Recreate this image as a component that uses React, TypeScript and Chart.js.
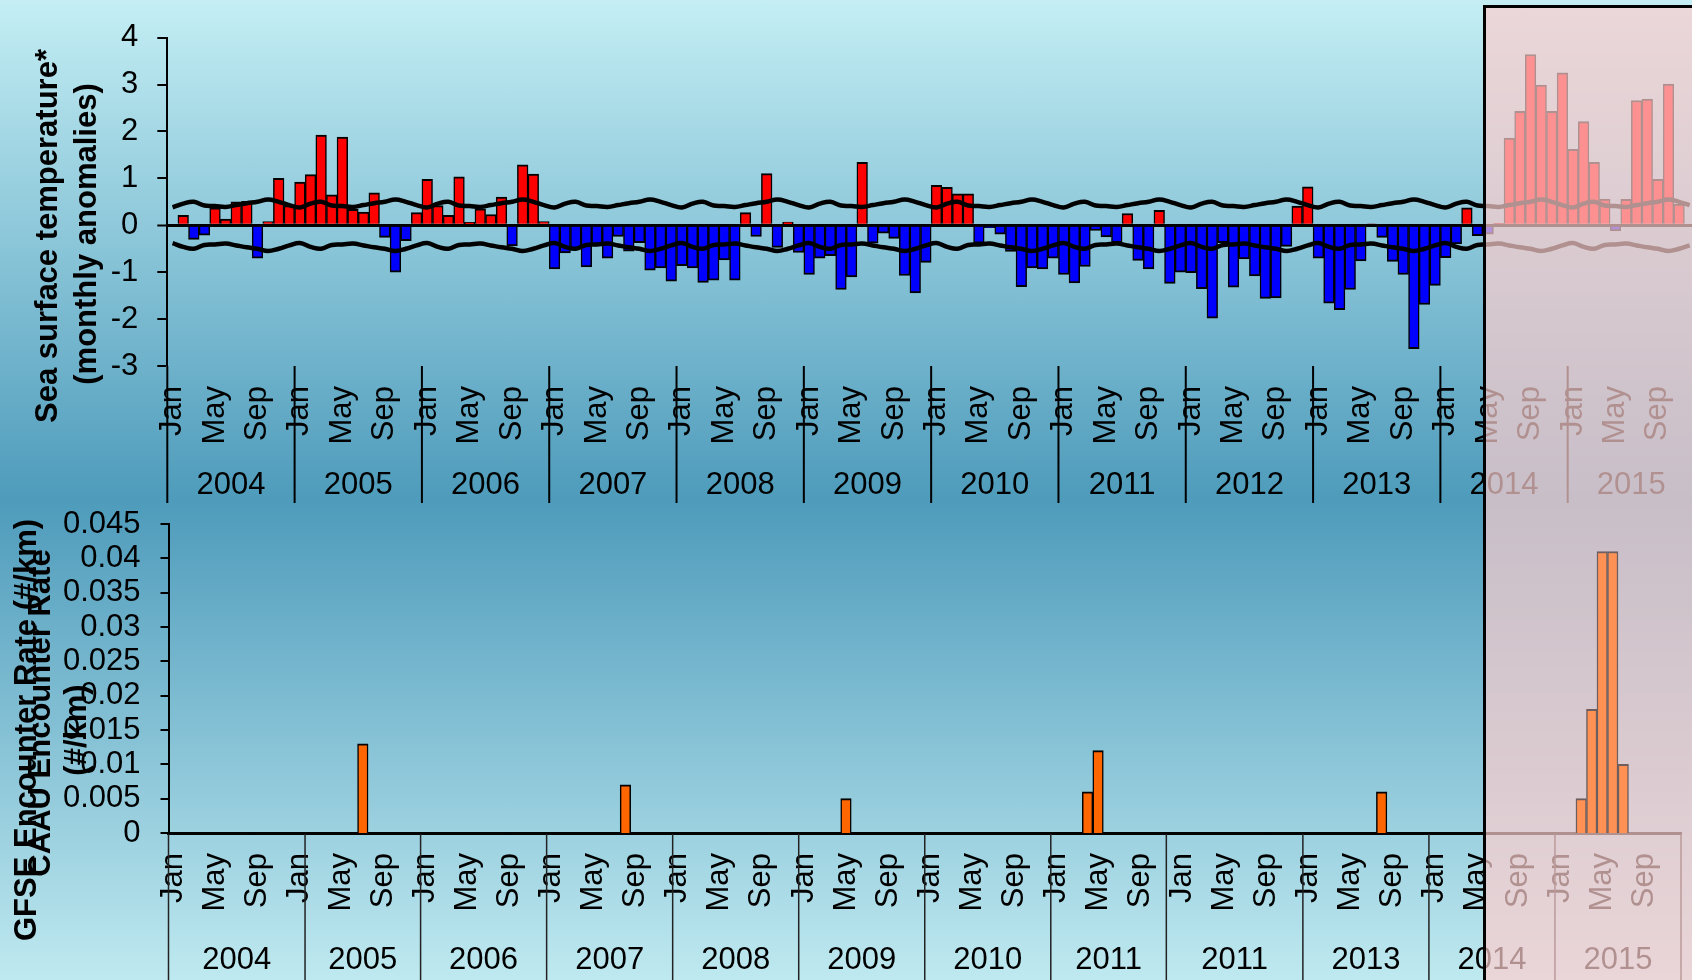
import React, { useEffect, useRef } from 'react';
import { Chart, registerables } from 'chart.js';

Chart.register(...registerables);

// ---------- data ----------
const MONTHS = ['Jan', 'Feb', 'Mar', 'Apr', 'May', 'Jun', 'Jul', 'Aug', 'Sep', 'Oct', 'Nov', 'Dec'];
const YEARS = ['2004', '2005', '2006', '2007', '2008', '2009', '2010', '2011', '2012', '2013', '2014', '2015'];
const SHOWN_MONTHS = ['Jan', 'May', 'Sep'];

const sst2004 = [0, 0.21, -0.3, -0.21, 0.37, 0.13, 0.5, 0.51, -0.7, 0.08, 1.0, 0.42];
const sst2005 = [0.92, 1.08, 1.92, 0.65, 1.88, 0.34, 0.28, 0.69, -0.26, -1.0, -0.33, 0.27];
const sst2006 = [0.98, 0.42, 0.21, 1.03, 0.06, 0.35, 0.23, 0.6, -0.44, 1.29, 1.09, 0.08];
const sst2007 = [-0.93, -0.59, -0.5, -0.89, -0.44, -0.7, -0.24, -0.55, -0.37, -0.96, -0.91, -1.19];
const sst2008 = [-0.86, -0.91, -1.22, -1.17, -0.74, -1.17, 0.27, -0.24, 1.1, -0.47, 0.07, -0.58];
const sst2009 = [-1.05, -0.7, -0.65, -1.37, -1.1, 1.34, -0.38, -0.17, -0.28, -1.07, -1.44, -0.79];
const sst2010 = [0.85, 0.81, 0.67, 0.67, -0.38, -0.05, -0.19, -0.56, -1.31, -0.91, -0.93, -0.7];
const sst2011 = [-1.05, -1.23, -0.88, -0.11, -0.25, -0.37, 0.25, -0.75, -0.93, 0.32, -1.24, -1.0];
const sst2012 = [-1.01, -1.35, -1.98, -0.37, -1.32, -0.72, -1.08, -1.56, -1.55, -0.45, 0.41, 0.82];
const sst2013 = [-0.7, -1.66, -1.8, -1.37, -0.76, 0.03, -0.26, -0.77, -1.05, -2.63, -1.69, -1.28];
const sst2014 = [-0.69, -0.4, 0.37, -0.22, -0.19, 0.04, 1.86, 2.43, 3.64, 2.99, 2.43, 3.25];
const sst2015 = [1.62, 2.21, 1.34, 0.56, -0.12, 0.55, 2.66, 2.69, 0.98, 3.01, 0.45, null];

// monthly threshold (+/-) of the anomaly band, Jan..Dec
const BAND_BY_MONTH = [0.38, 0.46, 0.5, 0.42, 0.41, 0.39, 0.43, 0.47, 0.5, 0.55, 0.5, 0.43];

const enc2004 = [0, 0, 0, 0, 0, 0, 0, 0, 0, 0, 0, 0];
const enc2005 = [0, 0, 0, 0, 0, 0, 0.013, 0, 0, 0, 0, 0];
const enc2006 = [0, 0, 0, 0, 0, 0, 0, 0, 0, 0, 0, 0];
const enc2007 = [0, 0, 0, 0, 0, 0, 0, 0.007, 0, 0, 0, 0];
const enc2008 = [0, 0, 0, 0, 0, 0, 0, 0, 0, 0, 0, 0];
const enc2009 = [0, 0, 0, 0, 0.005, 0, 0, 0, 0, 0, 0, 0];
const enc2010 = [0, 0, 0, 0, 0, 0, 0, 0, 0, 0, 0, 0];
const enc2011 = [0, 0, 0, 0.006, 0.012, 0, 0, 0, 0, 0, 0, 0];
const enc2012 = [0, 0, 0, 0, 0, 0, 0, 0, 0, 0, 0, 0];
const enc2013 = [0, 0, 0, 0, 0, 0, 0, 0.006, 0, 0, 0, 0];
const enc2014 = [0, 0, 0, 0, 0, 0, 0, 0, 0, 0, 0, 0];
const enc2015 = [0, 0, 0.005, 0.018, 0.041, 0.041, 0.01, 0, 0, 0, 0, 0];

const TOP_YEAR_LABELS = YEARS;
const TOP_YEAR_STARTS = [0, 12, 24, 36, 48, 60, 72, 84, 96, 108, 120, 132];
const BOTTOM_YEAR_LABELS = ['2004', '2005', '2006', '2007', '2008', '2009', '2010', '2011', '2011', '2013', '2014', '2015'];
const BOTTOM_YEAR_STARTS = [0, 13, 24, 36, 48, 60, 72, 84, 95, 108, 120, 132];

const TOP_TITLE = ['Sea surface temperature*', '(monthly anomalies)'];
const BOTTOM_TITLE_A = ['GFSE Encounter Rate (#/km)'];
const BOTTOM_TITLE_B = ['CAAU Encounter Rate', '(#/km)'];

// ---------- derived tables ----------
const LABELS = YEARS.flatMap(() => MONTHS);
const SST = [
  ...sst2004, ...sst2005, ...sst2006, ...sst2007, ...sst2008, ...sst2009,
  ...sst2010, ...sst2011, ...sst2012, ...sst2013, ...sst2014, ...sst2015,
];
const UPPER = LABELS.map((_, i) => BAND_BY_MONTH[i % 12]);
const LOWER = LABELS.map((_, i) => -BAND_BY_MONTH[i % 12]);
const ENC = [
  ...enc2004, ...enc2005, ...enc2006, ...enc2007, ...enc2008, ...enc2009,
  ...enc2010, ...enc2011, ...enc2012, ...enc2013, ...enc2014, ...enc2015,
];

// ---------- styling ----------
const FAMILY = '"Liberation Sans", Arial, Helvetica, sans-serif';
const TICK_FONT = { family: FAMILY, size: 31 };
const MONTH_FONT = { family: FAMILY, size: 31 };
const OVERLAY_X = 1483; // page px, left edge of the highlighted box
const OVERLAY_FILL = 'rgba(252,205,205,0.7)';

const yearGroupPlugin = {
  id: 'yearGroups',
  beforeDatasetsDraw(chart: any, _args: any, opts: any) {
    const x = chart.scales.x;
    const area = chart.chartArea;
    const ctx = chart.ctx;
    const n = chart.data.labels.length;
    const bounds = [...opts.starts, n];
    ctx.save();
    ctx.strokeStyle = opts.lineColor;
    ctx.lineWidth = opts.lineWidth;
    bounds.forEach((b: number) => {
      const px = x.getPixelForValue(b - 0.5);
      ctx.beginPath();
      ctx.moveTo(px, area.bottom + opts.lineTop);
      ctx.lineTo(px, area.bottom + opts.lineBottom);
      ctx.stroke();
    });
    ctx.fillStyle = '#000';
    ctx.font = `${opts.fontSize}px ${FAMILY}`;
    ctx.textAlign = 'center';
    ctx.textBaseline = 'middle';
    opts.labels.forEach((lab: string, i: number) => {
      const a = x.getPixelForValue(bounds[i] - 0.5);
      const b = x.getPixelForValue(bounds[i + 1] - 0.5);
      ctx.fillText(lab, (a + b) / 2, area.bottom + opts.labelOffset);
    });
    ctx.restore();
  },
};

const sideTitlePlugin = {
  id: 'sideTitles',
  afterDraw(chart: any, _args: any, opts: any) {
    const ctx = chart.ctx;
    ctx.save();
    ctx.fillStyle = '#000';
    ctx.font = `bold ${opts.fontSize}px ${FAMILY}`;
    ctx.textAlign = 'center';
    ctx.textBaseline = 'middle';
    opts.items.forEach((it: any) => {
      ctx.save();
      ctx.translate(it.x, it.y);
      ctx.rotate(-Math.PI / 2);
      ctx.fillText(it.text, 0, 0);
      ctx.restore();
    });
    ctx.restore();
  },
};

function paintOverlay(chart: any, opts: any) {
  const ctx = chart.ctx;
  const w = chart.width;
  ctx.save();
  ctx.fillStyle = OVERLAY_FILL;
  ctx.fillRect(OVERLAY_X, opts.top, w - OVERLAY_X, opts.bottom - opts.top);
  ctx.strokeStyle = '#000';
  ctx.lineWidth = 3;
  ctx.beginPath();
  ctx.moveTo(OVERLAY_X + 1.5, opts.top);
  ctx.lineTo(OVERLAY_X + 1.5, opts.bottom);
  if (opts.topBorder) {
    ctx.moveTo(OVERLAY_X, opts.top + 1.5);
    ctx.lineTo(w, opts.top + 1.5);
  }
  ctx.stroke();
  ctx.restore();
}

const overlayPlugin = {
  id: 'highlightBox',
  beforeDatasetsDraw(chart: any, _a: any, opts: any) {
    if (opts.mode === 'under') paintOverlay(chart, opts);
  },
  afterDraw(chart: any, _a: any, opts: any) {
    if (opts.mode === 'over') paintOverlay(chart, opts);
  },
};

function monthTick(this: any, value: any) {
  const l = this.getLabelForValue(value);
  return SHOWN_MONTHS.includes(l) ? l : null;
}

function inOverlay(c: any) {
  const x = c.chart.scales.x;
  return x.getPixelForValue(c.dataIndex) > OVERLAY_X;
}

function topConfig(): any {
  return {
    type: 'bar',
    data: {
      labels: LABELS,
      datasets: [
        { type: 'line', data: UPPER, borderColor: '#000', borderWidth: 4.5, pointRadius: 0, tension: 0.4, order: 0 },
        { type: 'line', data: LOWER, borderColor: '#000', borderWidth: 4.5, pointRadius: 0, tension: 0.4, order: 0 },
        {
          type: 'bar',
          data: SST,
          backgroundColor: (c: any) => ((c.raw ?? 0) >= 0 ? '#ff0000' : '#0000ff'),
          borderColor: '#000',
          borderWidth: { top: 2, bottom: 2, left: 1.5, right: 1.5 },
          barPercentage: 1,
          categoryPercentage: 1,
          order: 1,
        },
      ],
    },
    options: {
      responsive: false,
      animation: false,
      layout: { padding: { left: 0, top: 33, right: 1700 - 1695, bottom: 0 } },
      plugins: {
        legend: { display: false },
        tooltip: { enabled: false },
        yearGroups: {
          starts: TOP_YEAR_STARTS, labels: TOP_YEAR_LABELS, lineColor: '#000', lineWidth: 2,
          lineTop: 0, lineBottom: 137, labelOffset: 119, fontSize: 31,
        },
        sideTitles: {
          fontSize: 31,
          items: [
            { text: TOP_TITLE[0], x: 48, y: 236 },
            { text: TOP_TITLE[1], x: 87, y: 234 },
          ],
        },
        highlightBox: { mode: 'over', top: 5, bottom: 500, topBorder: true },
      },
      scales: {
        x: {
          type: 'category',
          offset: true,
          grid: { display: true, drawOnChartArea: false, drawTicks: true, tickLength: 20, color: 'rgba(0,0,0,0)' },
          border: { display: false },
          ticks: { autoSkip: false, minRotation: 90, maxRotation: 90, padding: 0, font: MONTH_FONT, color: '#000', callback: monthTick },
          afterFit: (s: any) => { s.height = 520 - 366; },
        },
        y: {
          min: -3,
          max: 4,
          ticks: { stepSize: 1, autoSkip: false, padding: 19, font: TICK_FONT, color: '#000' },
          grid: {
            color: (c: any) => (c.tick && c.tick.value === 0 ? '#000' : 'rgba(0,0,0,0)'),
            lineWidth: (c: any) => (c.tick && c.tick.value === 0 ? 3 : 0),
            tickColor: '#000',
            tickWidth: 2,
            tickLength: 10,
            drawTicks: true,
          },
          border: { display: true, color: '#000', width: 2 },
          afterFit: (s: any) => { s.width = 167.3; },
        },
      },
    },
    plugins: [yearGroupPlugin, sideTitlePlugin, overlayPlugin],
  };
}

function bottomConfig(): any {
  return {
    type: 'bar',
    data: {
      labels: LABELS,
      datasets: [
        {
          type: 'bar',
          data: ENC,
          backgroundColor: (c: any) => (inOverlay(c) ? '#ff9155' : '#ff6600'),
          borderColor: (c: any) => (inOverlay(c) ? '#6e5e5e' : '#000'),
          borderWidth: { top: 2, bottom: 0, left: 1.5, right: 1.5 },
          barPercentage: 1,
          categoryPercentage: 1,
        },
      ],
    },
    options: {
      responsive: false,
      animation: false,
      layout: { padding: { left: 0, top: 44, right: 1700 - 1681, bottom: 0 } },
      plugins: {
        legend: { display: false },
        tooltip: { enabled: false },
        yearGroups: {
          starts: BOTTOM_YEAR_STARTS, labels: BOTTOM_YEAR_LABELS, lineColor: '#222', lineWidth: 1.5,
          lineTop: 1, lineBottom: 150, labelOffset: 127, fontSize: 31,
        },
        sideTitles: {
          fontSize: 31,
          items: [
            { text: BOTTOM_TITLE_A[0], x: 27, y: 250 },
            { text: BOTTOM_TITLE_B[0], x: 41, y: 233 },
            { text: BOTTOM_TITLE_B[1], x: 77, y: 250 },
          ],
        },
        highlightBox: { mode: 'under', top: 20, bottom: 500, topBorder: false },
      },
      scales: {
        x: {
          type: 'category',
          offset: true,
          grid: { display: true, drawOnChartArea: false, drawTicks: true, tickLength: 20, color: 'rgba(0,0,0,0)' },
          border: { display: true, color: '#000', width: 3 },
          ticks: { autoSkip: false, minRotation: 90, maxRotation: 90, padding: 0, font: MONTH_FONT, color: '#000', callback: monthTick },
          afterFit: (s: any) => { s.height = 500 - 353; },
        },
        y: {
          min: 0,
          max: 0.045,
          ticks: {
            stepSize: 0.005,
            autoSkip: false,
            padding: 20,
            font: TICK_FONT,
            color: '#000',
            callback: (v: any) => String(Number(Number(v).toFixed(3))),
          },
          grid: {
            color: 'rgba(0,0,0,0)',
            lineWidth: 0,
            tickColor: '#000',
            tickWidth: 2,
            tickLength: 8,
            drawTicks: true,
          },
          border: { display: true, color: '#000', width: 2 },
          afterFit: (s: any) => { s.width = 168.5; },
        },
      },
    },
    plugins: [yearGroupPlugin, sideTitlePlugin, overlayPlugin],
  };
}

export default function App() {
  const topRef = useRef<HTMLCanvasElement>(null);
  const botRef = useRef<HTMLCanvasElement>(null);

  useEffect(() => {
    document.body.style.margin = '0';
    const c1 = new Chart(topRef.current as HTMLCanvasElement, topConfig());
    const c2 = new Chart(botRef.current as HTMLCanvasElement, bottomConfig());
    return () => {
      c1.destroy();
      c2.destroy();
    };
  }, []);

  return (
    <div
      style={{
        position: 'fixed',
        left: 0,
        top: 0,
        width: 1692,
        height: 980,
        overflow: 'hidden',
        background: 'linear-gradient(to bottom, #c4eef4 0%, #4e9bbb 51%, #bfe9f0 100%)',
      }}
    >
      <canvas ref={topRef} width={1700} height={520} style={{ position: 'absolute', left: 0, top: 0, width: 1700, height: 520 }} />
      <canvas ref={botRef} width={1700} height={500} style={{ position: 'absolute', left: 0, top: 480, width: 1700, height: 500 }} />
    </div>
  );
}
